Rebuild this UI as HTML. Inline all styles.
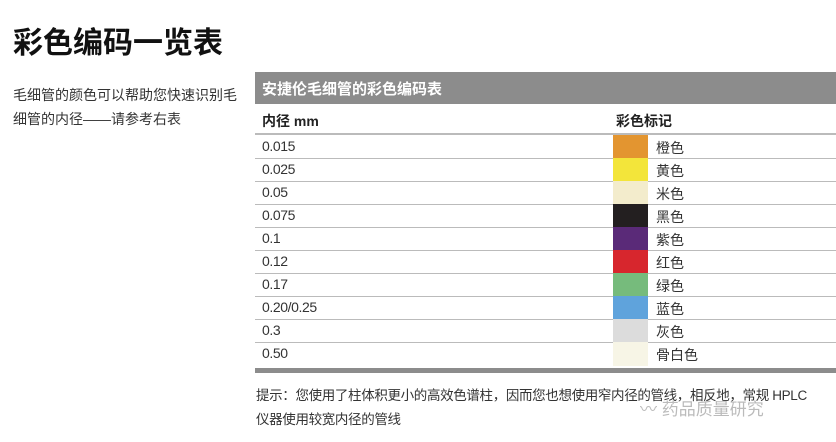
<!DOCTYPE html>
<html><head><meta charset="utf-8"><style>
body{margin:0;width:836px;height:442px;background:#fff;overflow:hidden;position:relative;font-family:"Liberation Sans","Noto Sans CJK SC",sans-serif;color:#222}
.a{position:absolute;white-space:nowrap}
.row{position:absolute;left:255px;width:581px;height:23px;border-bottom:1.5px solid #bbb}
.row span{position:absolute;top:3px;font-size:14px;color:#333}
.row span.n{letter-spacing:-0.4px}
.sw{position:absolute;left:358px;top:0;width:35px;height:24px}
</style></head><body>
<div class="a" style="left:13px;top:18px;font-size:30px;font-weight:600;color:#111">彩色编码一览表</div>
<div class="a" style="left:13px;top:83px;font-size:14px;line-height:24px;color:#333">毛细管的颜色可以帮助您快速识别毛<br>细管的内径——请参考右表</div>
<div class="a" style="left:255px;top:72px;width:581px;height:32px;background:#8c8c8c"></div>
<div class="a" style="left:262px;top:78px;font-size:15px;font-weight:bold;color:#fff">安捷伦毛细管的彩色编码表</div>
<div class="a" style="left:262px;top:111px;font-size:14px;font-weight:bold">内径 mm</div>
<div class="a" style="left:616px;top:111px;font-size:14px;font-weight:bold">彩色标记</div>
<div class="a" style="left:255px;top:133px;width:581px;height:1.5px;background:#bbb"></div>
<div class="row" style="top:135px"><span class="n" style="left:7px">0.015</span><div class="sw" style="background:#e39530"></div><span style="left:401px">橙色</span></div>
<div class="row" style="top:158px"><span class="n" style="left:7px">0.025</span><div class="sw" style="background:#f3e53a"></div><span style="left:401px">黄色</span></div>
<div class="row" style="top:181px"><span class="n" style="left:7px">0.05</span><div class="sw" style="background:#f3eccc"></div><span style="left:401px">米色</span></div>
<div class="row" style="top:204px"><span class="n" style="left:7px">0.075</span><div class="sw" style="background:#231f20"></div><span style="left:401px">黑色</span></div>
<div class="row" style="top:227px"><span class="n" style="left:7px">0.1</span><div class="sw" style="background:#5a2a78"></div><span style="left:401px">紫色</span></div>
<div class="row" style="top:250px"><span class="n" style="left:7px">0.12</span><div class="sw" style="background:#d7262d"></div><span style="left:401px">红色</span></div>
<div class="row" style="top:273px"><span class="n" style="left:7px">0.17</span><div class="sw" style="background:#76bb7c"></div><span style="left:401px">绿色</span></div>
<div class="row" style="top:296px"><span class="n" style="left:7px">0.20/0.25</span><div class="sw" style="background:#5fa3dc"></div><span style="left:401px">蓝色</span></div>
<div class="row" style="top:319px"><span class="n" style="left:7px">0.3</span><div class="sw" style="background:#dcdcdc"></div><span style="left:401px">灰色</span></div>
<div class="row" style="top:342px;border-bottom:none"><span class="n" style="left:7px">0.50</span><div class="sw" style="background:#f7f5e6"></div><span style="left:401px">骨白色</span></div>
<div class="a" style="left:255px;top:368px;width:581px;height:5px;background:#8c8c8c"></div>
<div class="a" style="left:256px;top:384px;font-size:13.5px;letter-spacing:-0.35px;line-height:24px;color:#333">提示：您使用了柱体积更小的高效色谱柱，因而您也想使用窄内径的管线，相反地，常规 HPLC<br>仪器使用较宽内径的管线</div>
<div class="a" style="left:640px;top:395px;font-size:17px;color:#bbb">〰 药品质量研究</div>
</body></html>
